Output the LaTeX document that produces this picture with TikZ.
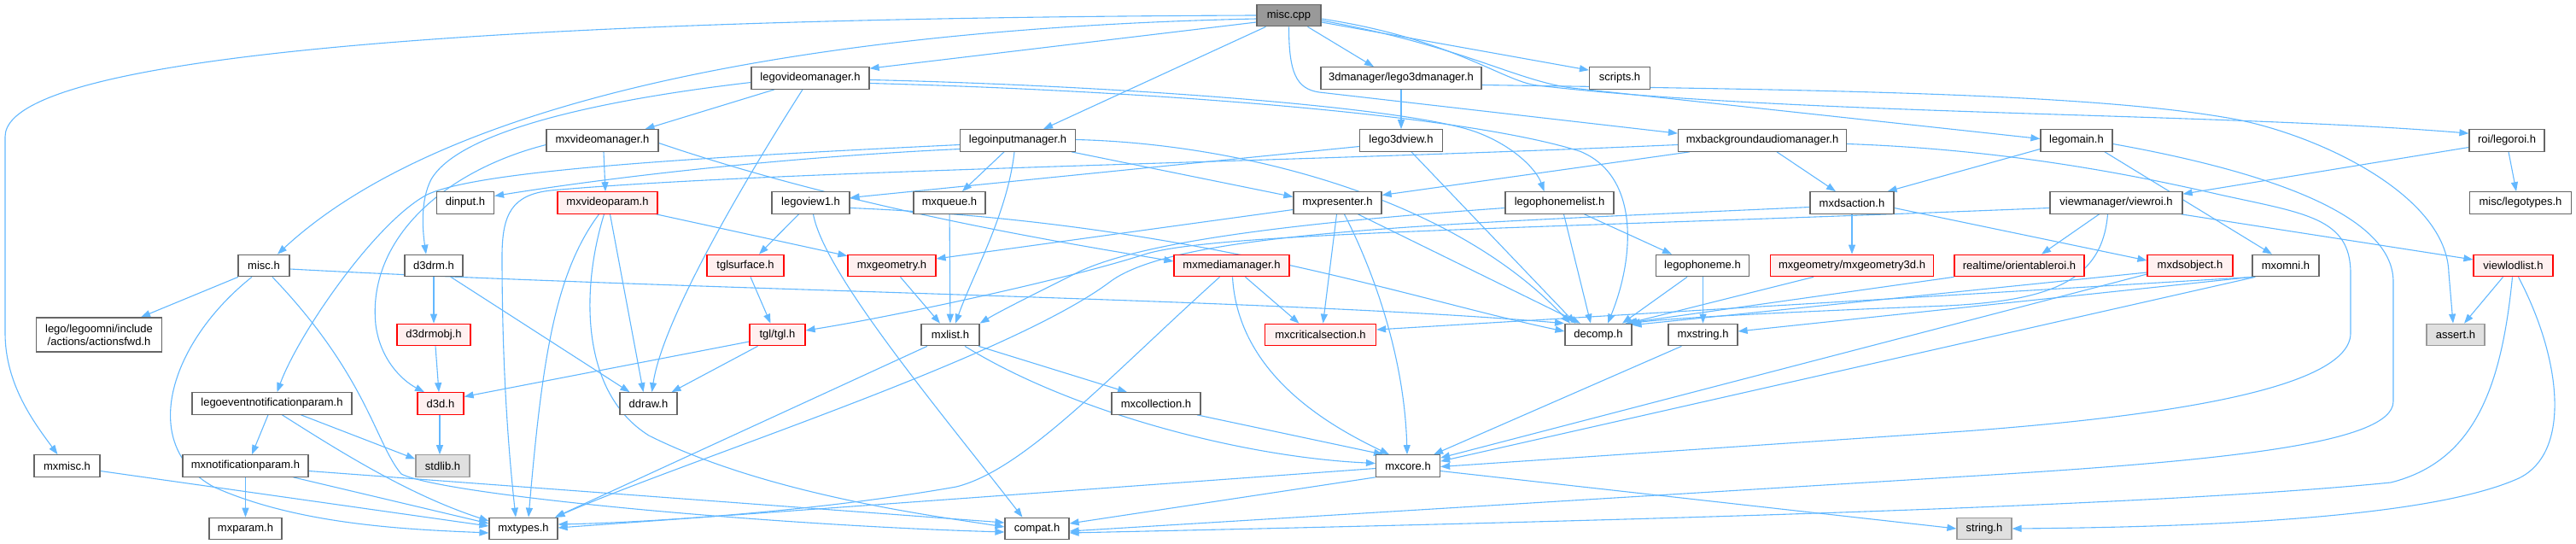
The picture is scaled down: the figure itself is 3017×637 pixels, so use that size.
\documentclass[tikz,border=0pt]{standalone}
\usepackage{fontspec}
\setmainfont{Liberation Sans}
\usetikzlibrary{arrows.meta,backgrounds}
\definecolor{edgec}{HTML}{63B8FF}
\definecolor{grey40}{HTML}{666666}
\definecolor{grey60}{HTML}{999999}
\definecolor{redfill}{HTML}{FFF0F0}
\definecolor{extfill}{HTML}{E0E0E0}
\tikzset{
  box/.style={draw=grey40, fill=white, line width=1.2pt, minimum height=25.5pt, inner sep=0pt, font=\fontsize{13pt}{15pt}\selectfont},
  redbox/.style={box, draw=red, fill=redfill},
  extbox/.style={box, draw=grey60, fill=extfill},
  rootbox/.style={box, draw=grey40, fill=grey60},
  edge/.style={draw=edgec, line width=1.1pt, -{Triangle[length=11pt,width=8pt]}},
}
\begin{document}
\begin{tikzpicture}[x=1pt,y=-1pt]
\useasboundingbox (0,0) rectangle (3017,637);
% nodes
\node[rootbox, minimum width=75pt] (cpp) at (1509.5,18) {misc.cpp};
\node[box, minimum width=138pt] (lvm) at (949,91.5) {legovideomanager.h};
\node[box, minimum width=188pt] (l3dm) at (1641,91.5) {3dmanager/lego3dmanager.h};
\node[box, minimum width=71pt] (scripts) at (1897,91.5) {scripts.h};
\node[box, minimum width=135pt] (lim) at (1192,164.5) {legoinputmanager.h};
\node[box, minimum width=131pt] (mvm) at (705.5,164.5) {mxvideomanager.h};
\node[box, minimum width=97pt] (l3dv) at (1641,164.5) {lego3dview.h};
\node[box, minimum width=197pt] (mbam) at (2064,164.5) {mxbackgroundaudiomanager.h};
\node[box, minimum width=84pt] (lmain) at (2432,164.5) {legomain.h};
\node[box, minimum width=88pt] (lroi) at (2936,164.5) {roi/legoroi.h};
\node[box, minimum width=67pt] (dinput) at (545,237.5) {dinput.h};
\node[redbox, minimum width=117pt] (mvp) at (711.5,237.5) {mxvideoparam.h};
\node[box, minimum width=91pt] (lv1) at (949.5,237.5) {legoview1.h};
\node[box, minimum width=84pt] (mxq) at (1112,237.5) {mxqueue.h};
\node[box, minimum width=103pt] (mpres) at (1566.5,237.5) {mxpresenter.h};
\node[box, minimum width=127pt] (lpl) at (1826.5,237.5) {legophonemelist.h};
\node[box, minimum width=98pt] (mdsa) at (2169,237.5) {mxdsaction.h};
\node[box, minimum width=155pt] (vroi) at (2478.5,237.5) {viewmanager/viewroi.h};
\node[box, minimum width=119pt] (ltypes) at (2952,237.5) {misc/legotypes.h};
\node[box, minimum width=60pt] (misch) at (309,311) {misc.h};
\node[box, minimum width=68pt] (d3drm) at (508,311) {d3drm.h};
\node[redbox, minimum width=90pt] (tgls) at (873,311) {tglsurface.h};
\node[redbox, minimum width=103pt] (mgeo) at (1044.5,311) {mxgeometry.h};
\node[redbox, minimum width=135pt] (mmm) at (1442.5,311) {mxmediamanager.h};
\node[box, minimum width=109pt] (lph) at (1994,311) {legophoneme.h};
\node[redbox, minimum width=191pt] (mg3d) at (2169,311) {mxgeometry/mxgeometry3d.h};
\node[redbox, minimum width=152pt] (oroi) at (2365,311) {realtime/orientableroi.h};
\node[redbox, minimum width=100pt] (mdso) at (2565,311) {mxdsobject.h};
\node[box, minimum width=78pt] (momni) at (2677,311) {mxomni.h};
\node[redbox, minimum width=93pt] (vlod) at (2943.5,311) {viewlodlist.h};
\node[box, minimum width=147pt, minimum height=40pt, align=center] (afwd) at (116,392) {lego/legoomni/include\\/actions/actionsfwd.h};
\node[redbox, minimum width=86pt] (d3drmobj) at (508,392) {d3drmobj.h};
\node[redbox, minimum width=65pt] (tgl) at (910.5,392) {tgl/tgl.h};
\node[box, minimum width=68pt] (mxlist) at (1113,392) {mxlist.h};
\node[redbox, minimum width=130pt] (mcs) at (1546.5,392) {mxcriticalsection.h};
\node[box, minimum width=78pt] (decomp) at (1872,392) {decomp.h};
\node[box, minimum width=81pt] (mxstr) at (1994.5,392) {mxstring.h};
\node[extbox, minimum width=68pt] (assert) at (2876,392) {assert.h};
\node[box, minimum width=187pt] (lenp) at (318.5,472.5) {legoeventnotificationparam.h};
\node[redbox, minimum width=54pt] (d3d) at (516,472.5) {d3d.h};
\node[box, minimum width=67pt] (ddraw) at (759.5,472.5) {ddraw.h};
\node[box, minimum width=104pt] (mcoll) at (1354,472.5) {mxcollection.h};
\node[box, minimum width=77pt] (mxmisc) at (78.5,545.5) {mxmisc.h};
\node[box, minimum width=147pt] (mnp) at (287.5,545.5) {mxnotificationparam.h};
\node[extbox, minimum width=63pt] (stdlib) at (518.5,545.5) {stdlib.h};
\node[box, minimum width=75pt] (mcore) at (1649,545.5) {mxcore.h};
\node[box, minimum width=85pt] (mxparam) at (287.5,619) {mxparam.h};
\node[box, minimum width=80pt] (mtypes) at (613,619) {mxtypes.h};
\node[box, minimum width=75pt] (compat) at (1214.5,619) {compat.h};
\node[extbox, minimum width=64pt] (string) at (2324,619) {string.h};
% edges
\begin{scope}[on background layer]
% misc.cpp
\draw[edge] (cpp.west) .. controls (900,20) and (6,40) .. (6,160) -- (6,390) .. controls (6,450) and (40,495) .. ([xshift=-11pt]mxmisc.north);
\draw[edge] ([yshift=-4pt]cpp.west) .. controls (1100,30) and (560,80) .. ([xshift=16pt]misch.north);
\draw[edge] ([yshift=-8pt]cpp.west) -- ([yshift=-2pt]lvm.north east);
\draw[edge] ([xshift=-27pt]cpp.south) -- ([xshift=30pt]lim.north);
\draw[edge] ([xshift=22pt]cpp.south) -- ([xshift=-32pt]l3dm.north);
\draw[edge] ([yshift=-8pt]cpp.east) -- ([yshift=-4pt]scripts.north west);
\draw[edge] (cpp.south) .. controls (1509.5,85) and (1518,104) .. (1545,108) -- ([yshift=-5pt]mbam.north west);
\draw[edge] ([yshift=-4pt]cpp.east) .. controls (1700,45) and (1760,95) .. (1800,100) .. controls (2100,135) and (2600,132) .. ([yshift=-5pt]lroi.north west);
\draw[edge] ([yshift=-6pt]cpp.east) .. controls (1720,55) and (1780,98) .. (1850,104) -- ([yshift=2pt]lmain.west);
% lego3dmanager
\draw[edge] (l3dm) -- (l3dv);
\draw[edge] ([yshift=-8pt]l3dm.east) .. controls (2100,105) and (2450,108) .. (2620,140) .. controls (2720,160) and (2866,230) .. (2868,320) -- ([xshift=-3pt]assert.north);
% legovideomanager
\draw[edge] ([xshift=-42pt]lvm.south) -- ([xshift=50pt]mvm.north);
\draw[edge] ([yshift=-5pt]lvm.west) .. controls (720,115) and (540,150) .. (505,210) .. controls (492,235) and (495,270) .. ([xshift=-9pt]d3drm.north);
\draw[edge] ([xshift=-9pt]lvm.south) .. controls (860,230) and (775,380) .. ([xshift=4pt]ddraw.north);
\draw[edge] ([yshift=-2pt]lvm.east) .. controls (1300,100) and (1650,125) .. (1730,155) .. controls (1775,172) and (1800,200) .. ([xshift=-18pt]lpl.north);
\draw[edge] ([yshift=-6pt]lvm.east) .. controls (1300,105) and (1700,130) .. (1850,177) .. controls (1920,205) and (1915,300) .. ([xshift=11pt]decomp.north);
% mxvideomanager
\draw[edge] ([xshift=1.5pt]mvm.south) -- ([xshift=-2.5pt]mvp.north);
\draw[edge] ([yshift=-3pt]mvm.east) .. controls (1000,245) and (1250,285) .. ([yshift=5pt]mmm.west);
\draw[edge] ([yshift=-5pt]mvm.west) .. controls (520,200) and (430,280) .. (440,380) .. controls (445,420) and (470,445) .. ([xshift=-19pt]d3d.north);
% legoinputmanager
\draw[edge] ([yshift=-10pt]lim.west) .. controls (900,185) and (700,210) .. ([yshift=8pt]dinput.east);
\draw[edge] ([yshift=-5pt]lim.west) .. controls (800,185) and (560,200) .. (500,228) .. controls (440,260) and (350,390) .. ([xshift=6pt]lenp.north);
\draw[edge] ([xshift=-16pt]lim.south) -- ([xshift=15pt]mxq.north);
\draw[edge] ([xshift=-4pt]lim.south) .. controls (1180,250) and (1140,320) .. ([xshift=6pt]mxlist.north);
\draw[edge] ([xshift=63pt]lim.south) -- ([yshift=7pt]mpres.west);
\draw[edge] ([yshift=1pt]lim.east) .. controls (1450,168) and (1700,230) .. ([xshift=-33pt]decomp.north);
% lego3dview
\draw[edge] ([yshift=-7pt]l3dv.west) -- ([yshift=6pt]lv1.east);
\draw[edge] ([xshift=12pt]l3dv.south) -- ([xshift=-27pt]decomp.north);
% legoview1
\draw[edge] ([xshift=-14pt]lv1.south) -- ([xshift=16pt]tgls.north);
\draw[edge] ([xshift=3pt]lv1.south) .. controls (965,320) and (1100,480) .. ([xshift=-17pt]compat.north);
\draw[edge] ([yshift=-6pt]lv1.east) .. controls (1400,260) and (1650,350) .. ([yshift=4pt]decomp.west);
% mxqueue
\draw[edge] (mxq) -- (mxlist);
% mxpresenter
\draw[edge] ([yshift=-8pt]mpres.west) -- ([yshift=8pt]mgeo.east);
\draw[edge] ([xshift=-1pt]mpres.south) -- ([xshift=3pt]mcs.north);
\draw[edge] ([xshift=8pt]mpres.south) .. controls (1610,320) and (1645,420) .. ([xshift=-1pt]mcore.north);
\draw[edge] ([xshift=24pt]mpres.south) -- ([xshift=-21pt]decomp.north);
% mxgeometry, tglsurface, tgl
\draw[edge] ([xshift=10pt]mgeo.south) -- ([xshift=-12pt]mxlist.north);
\draw[edge] ([xshift=6pt]tgls.south) -- ([xshift=-8pt]tgl.north);
\draw[edge] ([yshift=-8pt]tgl.west) -- ([yshift=8pt]d3d.east);
\draw[edge] ([xshift=-23pt]tgl.south) -- ([xshift=27pt]ddraw.north);
% mxvideoparam
\draw[edge] ([xshift=-2pt]mvp.south east) -- ([yshift=-2pt]mgeo.north west);
\draw[edge] ([xshift=3pt]mvp.south) -- ([xshift=-6pt]ddraw.north);
\draw[edge] ([xshift=-10pt]mvp.south) .. controls (650,320) and (635,420) .. ([xshift=6pt]mtypes.north);
\draw[edge] ([xshift=-4pt]mvp.south) .. controls (680,340) and (680,460) .. (760,510) .. controls (900,580) and (1100,605) .. ([yshift=2pt]compat.west);
% mxmediamanager
\draw[edge] ([xshift=16pt]mmm.south) -- ([xshift=-25pt]mcs.north);
\draw[edge] ([xshift=1pt]mmm.south) .. controls (1450,440) and (1560,500) .. ([xshift=-22pt]mcore.north);
\draw[edge] ([xshift=-14pt]mmm.south) .. controls (1300,440) and (1200,550) .. (1120,570) .. controls (950,600) and (750,612) .. ([yshift=5pt]mtypes.east);
% mxlist, mxcollection
\draw[edge] ([xshift=33pt]mxlist.south) -- ([xshift=-34pt]mcoll.north);
\draw[edge] ([xshift=17pt]mxlist.south) .. controls (1250,480) and (1450,535) .. ([yshift=3pt]mcore.west);
\draw[edge] ([xshift=-27pt]mxlist.south) -- ([xshift=37pt]mtypes.north);
\draw[edge] ([xshift=48pt]mcoll.south) -- ([xshift=-29pt]mcore.north);
% mxcore
\draw[edge] (mcore.south west) -- ([yshift=6pt]compat.east);
\draw[edge] ([yshift=-3pt]mcore.west) -- ([yshift=1pt]mtypes.east);
\draw[edge] ([yshift=-6pt]mcore.east) -- (string.west);
% misc.h
\draw[edge] ([xshift=-30pt]misch.south) -- ([xshift=49pt]afwd.north);
\draw[edge] ([xshift=-14pt]misch.south) .. controls (200,400) and (160,520) .. (250,570) .. controls (350,615) and (480,620) .. ([yshift=-5pt]mtypes.west);
\draw[edge] ([xshift=10pt]misch.south) .. controls (430,440) and (440,520) .. (470,555) .. controls (520,580) and (900,615) .. ([yshift=-4pt]compat.west);
\draw[edge] ([yshift=-4pt]misch.east) .. controls (800,340) and (1500,350) .. ([xshift=-40pt]decomp.north);
% legophonemelist, legophoneme
\draw[edge] ([xshift=29pt]lpl.south) -- ([xshift=-36pt]lph.north);
\draw[edge] ([xshift=5pt]lpl.south) -- ([xshift=-9pt]decomp.north);
\draw[edge] ([yshift=-6pt]lpl.west) .. controls (1500,262) and (1330,285) .. (1260,320) .. controls (1210,345) and (1170,365) .. (mxlist.north east);
\draw[edge] ([xshift=-18pt]lph.south) -- ([xshift=28pt]decomp.north);
\draw[edge] ([xshift=0.5pt]lph.south) -- (mxstr.north);
\draw[edge] ([xshift=-25pt]mxstr.south) -- ([xshift=-8pt]mcore.north east);
% mxbackgroundaudiomanager
\draw[edge] ([xshift=-85pt]mbam.south) -- ([yshift=9pt]mpres.east);
\draw[edge] ([xshift=17pt]mbam.south) -- ([xshift=-19pt]mdsa.north);
\draw[edge] ([yshift=-5pt]mbam.west) .. controls (1500,190) and (900,200) .. (645,223) .. controls (600,228) and (588,250) .. (588,300) .. controls (588,450) and (598,550) .. ([xshift=-9pt]mtypes.north);
\draw[edge] ([yshift=-4pt]mbam.east) .. controls (2350,175) and (2500,205) .. (2600,228) .. controls (2700,250) and (2753,255) .. (2753,320) -- (2753,390) .. controls (2753,460) and (2500,490) .. (2300,505) -- ([yshift=-1pt]mcore.east);
% legomain
\draw[edge] ([yshift=-10pt]lmain.west) -- ([xshift=-8pt]mdsa.north east);
\draw[edge] ([xshift=33pt]lmain.south) -- ([xshift=-16pt]momni.north);
\draw[edge] ([yshift=-4pt]lmain.east) .. controls (2650,200) and (2803,250) .. (2803,330) -- (2803,470) .. controls (2803,520) and (2600,540) .. (2300,558) -- ([yshift=-3pt]compat.east);
% roi
\draw[edge] ([yshift=-8pt]lroi.west) -- ([yshift=-3pt]vroi.north east);
\draw[edge] ([xshift=2pt]lroi.south) -- ([xshift=-5pt]ltypes.north);
% viewroi
\draw[edge] ([xshift=-20pt]vroi.south) -- ([xshift=26pt]oroi.north);
\draw[edge] ([xshift=-2pt]vroi.south east) -- ([yshift=7pt]vlod.west);
\draw[edge] ([yshift=-6pt]vroi.west) .. controls (1800,268) and (1420,272) .. (1340,298) .. controls (1250,327) and (1050,370) .. ([yshift=5pt]tgl.east);
\draw[edge] ([xshift=-10pt]vroi.south) .. controls (2462,330) and (2400,352) .. (2280,358) .. controls (2100,365) and (1960,372) .. ([xshift=-2pt]decomp.north east);
% mxdsaction
\draw[edge] (mdsa) -- (mg3d);
\draw[edge] ([yshift=-6pt]mdsa.east) -- ([yshift=6pt]mdso.west);
\draw[edge] ([yshift=-5pt]mdsa.west) .. controls (1700,262) and (1380,270) .. (1300,330) .. controls (1180,420) and (800,540) .. ([xshift=-3pt]mtypes.north east);
% geometry, orientableroi, dsobject, omni
\draw[edge] ([xshift=-45pt]mg3d.south) -- ([xshift=-5pt]decomp.north east);
\draw[edge] (oroi.south west) -- ([xshift=-8pt]decomp.north east);
\draw[edge] ([yshift=-8pt]mdso.west) -- ([yshift=-2pt]decomp.north east);
\draw[edge] ([yshift=-10pt]mdso.west) -- ([yshift=-4pt]mcore.north east);
\draw[edge] (momni.south west) -- ([yshift=4pt]mxstr.east);
\draw[edge] ([xshift=2pt]momni.south west) -- ([yshift=6pt]mcs.east);
\draw[edge] ([xshift=4pt]momni.south west) -- ([yshift=-8pt]mcore.north east);
% viewlodlist
\draw[edge] ([xshift=-12pt]vlod.south) -- ([xshift=10pt]assert.north);
\draw[edge] ([xshift=-1pt]vlod.south) .. controls (2930,450) and (2900,540) .. (2800,565) .. controls (2500,595) and (1800,612) .. ([yshift=-5pt]compat.east);
\draw[edge] ([xshift=6pt]vlod.south) .. controls (3000,420) and (3012,530) .. (2950,560) .. controls (2850,605) and (2600,617) .. (string.east);
% notification params
\draw[edge] (mnp) -- (mxparam);
\draw[edge] ([xshift=56pt]mnp.south) -- ([yshift=6pt]mtypes.west);
\draw[edge] ([yshift=-6pt]mnp.east) -- ([yshift=7pt]compat.west);
\draw[edge] ([xshift=-4.5pt]lenp.south) -- ([xshift=7.5pt]mnp.north);
\draw[edge] ([xshift=12pt]lenp.south) .. controls (400,530) and (480,580) .. ([yshift=9pt]mtypes.west);
\draw[edge] ([xshift=34pt]lenp.south) -- ([yshift=8pt]stdlib.west);
\draw[edge] ([yshift=-6pt]mxmisc.east) -- ([yshift=3pt]mtypes.west);
% d3d family
\draw[edge] (d3drm) -- (d3drmobj);
\draw[edge] ([xshift=20pt]d3drm.south) -- ([xshift=-22pt]ddraw.north);
\draw[edge] ([xshift=2pt]d3drmobj.south) -- ([xshift=-2pt]d3d.north);
\draw[edge] ([xshift=-1pt]d3d.south) -- ([xshift=-3.5pt]stdlib.north);
\end{scope}
\end{tikzpicture}
\end{document}
